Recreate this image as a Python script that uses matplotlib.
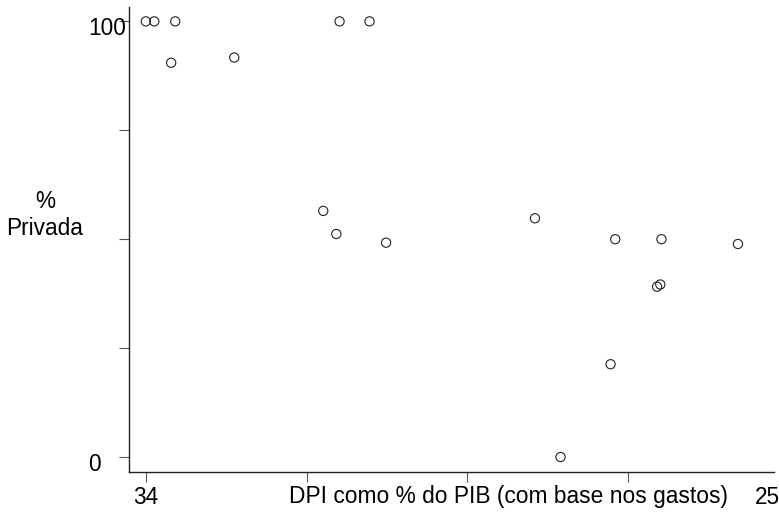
import matplotlib.pyplot as plt
import numpy as np

plt.rcParams['font.family'] = ['Liberation Sans', 'DejaVu Sans']

# DPI como % do PIB vs % Privada
dpi_pib = [34, 36.9, 44.1, 42.7, 64.4, 100.6, 110.9, 95.0, 99.5, 116.6,
           167.8, 195.4, 211.3, 237.6, 209.8, 210.9, 193.8, 176.6]
privada = [100, 100, 100, 90.5, 91.7, 100, 100, 56.5, 51.2, 49.2,
           54.8, 50.0, 50.0, 48.9, 39.1, 39.6, 21.3, 0]

x_ticks = [34, 89.3, 144.6, 199.9]
x_min_label = "34"
x_max_label = "250"
y_ticks = [0, 25, 50, 75, 100]
y_labels = {0: "0", 100: "100"}

fig = plt.figure(figsize=(7.79, 5.13), dpi=100)
ax = fig.add_axes([129 / 779, 41 / 513, 645 / 779, 465 / 513])

ax.scatter(dpi_pib, privada, s=44, facecolors='none', edgecolors='#222222',
           linewidths=0.8, zorder=3)

ax.set_xlim(28.2, 250)
ax.set_ylim(-3.44, 103.3)

for s in ['top', 'right']:
    ax.spines[s].set_visible(False)
for s in ['left', 'bottom']:
    ax.spines[s].set_color('#222222')
    ax.spines[s].set_linewidth(1.0)

ax.set_xticks(x_ticks)
ax.set_xticklabels([])
ax.set_yticks(y_ticks)
ax.set_yticklabels([])
ax.tick_params(length=7.5, width=0.8, color='#555555', direction='out')

# tick labels (left aligned on y, as in the original)
for v, lab in y_labels.items():
    ax.annotate(lab, xy=(0, v), xycoords=('axes fraction', 'data'),
                xytext=(-41 * 0.72, -7 * 0.72), textcoords='offset points',
                ha='left', va='center', fontsize=16.3, annotation_clip=False)

ax.annotate(x_min_label, xy=(34, 0), xycoords=('data', 'axes fraction'),
            xytext=(0, -25 * 0.72), textcoords='offset points',
            ha='center', va='center', fontsize=16.3, annotation_clip=False)
ax.annotate(x_max_label, xy=(1, 0), xycoords='axes fraction',
            xytext=(0, -25 * 0.72), textcoords='offset points',
            ha='center', va='center', fontsize=16.3, annotation_clip=False)

fig.text(508.5 / 779, (513 - 497) / 513, "DPI como % do PIB (com base nos gastos)",
         ha='center', va='center', fontsize=16.4)
fig.text(45 / 779, (513 - 215) / 513, "%\nPrivada", ha='center', va='center',
         fontsize=16.3, linespacing=1.2)

fig.savefig("out.png", dpi=100)
